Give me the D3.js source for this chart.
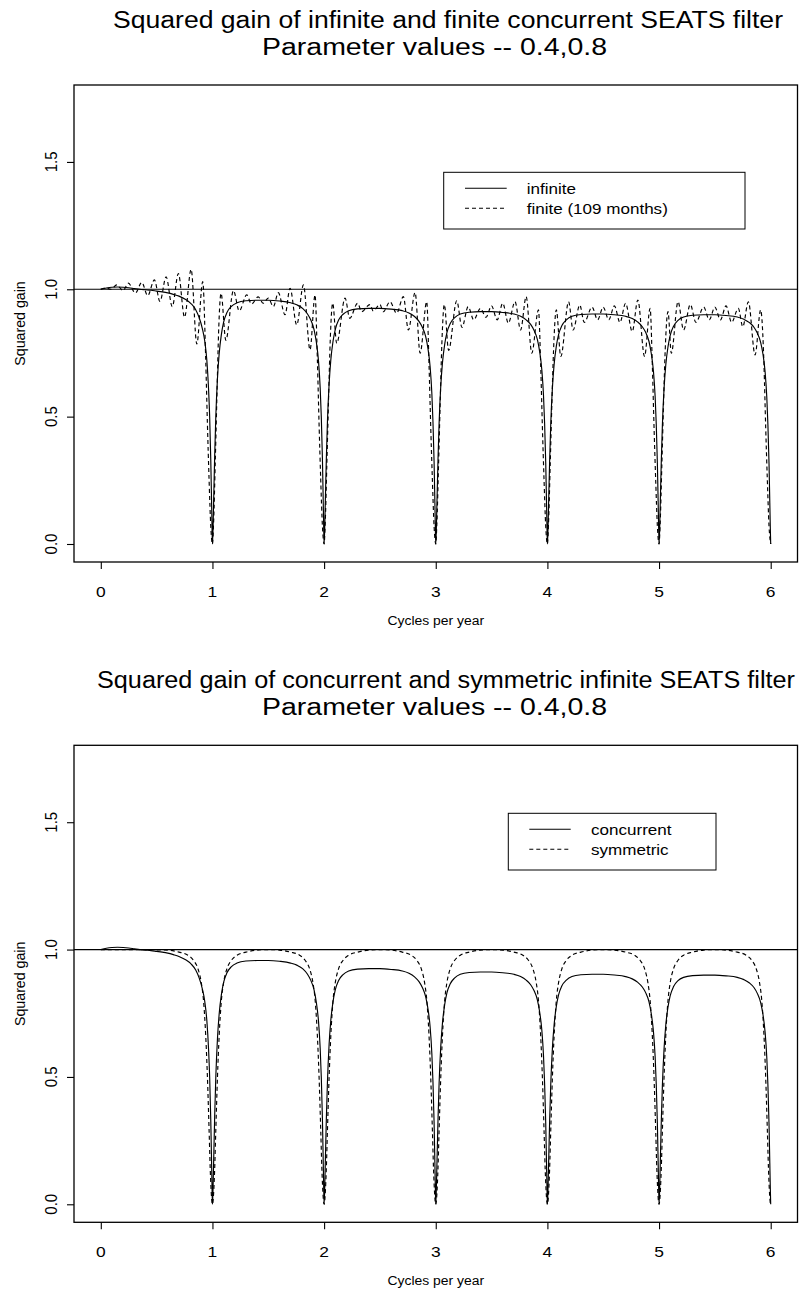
<!DOCTYPE html>
<html><head><meta charset="utf-8">
<script src="https://cdn.jsdelivr.net/npm/d3@7"></script>
<style>
body{margin:0;background:#fff;}
svg text{font-family:"Liberation Sans",Arial,Helvetica,sans-serif;fill:#000;}
</style></head>
<body><svg id="c" width="801" height="1304"></svg>
<script>
// ---------------- data ----------------
const xTicks = [0,1,2,3,4,5,6];
const yTicks = [0,0.5,1,1.5];
const yTickLabels = ["0.0","0.5","1.0","1.5"];
const titleTop = ["Squared gain of infinite and finite concurrent SEATS filter","Parameter values -- 0.4,0.8"];
const titleBottom = ["Squared gain of concurrent and symmetric infinite SEATS filter","Parameter values -- 0.4,0.8"];
const xLabel = "Cycles per year";
const yLabel = "Squared gain";
const legendTop = ["infinite","finite (109 months)"];
const legendBottom = ["concurrent","symmetric"];

// infinite concurrent filter (same curve in both panels)
const infinite = [
[0,1.0],[0.05,1.005],[0.1,1.008],[0.15,1.009],[0.2,1.008],[0.25,1.006],[0.3,1.003],[0.35,1.0],[0.4,0.998],[0.45,0.996],[0.5,0.993],[0.55,0.99],[0.6,0.986],[0.65,0.98],[0.7,0.973],[0.76,0.96],[0.81,0.943],[0.85,0.92],[0.88,0.89],[0.91,0.845],[0.93,0.8],[0.95,0.72],[0.965,0.61],[0.975,0.5],[0.985,0.33],[0.992,0.17],[0.996,0.075],[1,0],
[1.005,0.057],[1.01,0.153],[1.02,0.345],[1.03,0.498],[1.045,0.651],[1.06,0.746],[1.08,0.823],[1.1,0.871],[1.13,0.909],[1.17,0.933],[1.22,0.947],[1.3,0.955],[1.4,0.957],[1.5,0.957],[1.6,0.954],[1.7,0.947],[1.76,0.938],[1.81,0.924],[1.85,0.904],[1.88,0.88],[1.91,0.842],[1.93,0.794],[1.95,0.718],[1.965,0.612],[1.975,0.498],[1.985,0.335],[1.992,0.172],[1.996,0.077],[2,0],
[2.005,0.056],[2.01,0.148],[2.02,0.333],[2.03,0.481],[2.045,0.629],[2.06,0.722],[2.08,0.796],[2.1,0.842],[2.13,0.879],[2.17,0.902],[2.22,0.916],[2.3,0.923],[2.4,0.925],[2.5,0.925],[2.6,0.922],[2.7,0.916],[2.76,0.907],[2.81,0.893],[2.85,0.874],[2.88,0.851],[2.91,0.814],[2.93,0.768],[2.95,0.694],[2.965,0.592],[2.975,0.481],[2.985,0.324],[2.992,0.167],[2.996,0.074],[3,0],
[3.005,0.055],[3.01,0.146],[3.02,0.328],[3.03,0.474],[3.045,0.62],[3.06,0.711],[3.08,0.784],[3.1,0.83],[3.13,0.866],[3.17,0.889],[3.22,0.903],[3.3,0.91],[3.4,0.912],[3.5,0.912],[3.6,0.909],[3.7,0.903],[3.76,0.894],[3.81,0.88],[3.85,0.862],[3.88,0.839],[3.91,0.803],[3.93,0.757],[3.95,0.684],[3.965,0.584],[3.975,0.474],[3.985,0.319],[3.992,0.164],[3.996,0.073],[4,0],
[4.005,0.054],[4.01,0.144],[4.02,0.325],[4.03,0.47],[4.045,0.614],[4.06,0.704],[4.08,0.777],[4.1,0.822],[4.13,0.858],[4.17,0.88],[4.22,0.894],[4.3,0.901],[4.4,0.903],[4.5,0.903],[4.6,0.9],[4.7,0.894],[4.76,0.885],[4.81,0.871],[4.85,0.853],[4.88,0.831],[4.91,0.795],[4.93,0.749],[4.95,0.677],[4.965,0.578],[4.975,0.47],[4.985,0.316],[4.992,0.163],[4.996,0.072],[5,0],
[5.005,0.054],[5.01,0.144],[5.02,0.324],[5.03,0.468],[5.045,0.612],[5.06,0.702],[5.08,0.774],[5.1,0.819],[5.13,0.855],[5.17,0.878],[5.22,0.891],[5.3,0.898],[5.4,0.9],[5.5,0.9],[5.6,0.897],[5.7,0.891],[5.76,0.882],[5.81,0.869],[5.85,0.851],[5.88,0.828],[5.91,0.792],[5.93,0.747],[5.95,0.675],[5.965,0.576],[5.975,0.468],[5.985,0.315],[5.992,0.162],[5.996,0.072],[6,0]
];

// finite (109 months) concurrent filter
const finite = [
[0,1.0],[0.04,1.005],[0.09,1.0],[0.143,1.017],[0.2,0.995],[0.247,1.024],[0.31,0.985],[0.367,1.027],[0.42,0.975],[0.48,1.037],[0.53,0.952],[0.585,1.049],[0.64,0.932],[0.695,1.062],[0.75,0.89],[0.809,1.078],[0.86,0.785],[0.913,1.03],[0.94,0.72],[0.955,0.47],[0.97,0.25],[0.985,0.07],[1,0],
[1.01,0.08],[1.025,0.32],[1.04,0.58],[1.055,0.83],[1.077,0.984],[1.12,0.8],[1.188,0.995],[1.24,0.915],[1.307,0.978],[1.35,0.942],[1.41,0.97],[1.455,0.945],[1.5,0.965],[1.546,0.932],[1.59,0.987],[1.65,0.9],[1.695,1.004],[1.755,0.86],[1.815,1.017],[1.874,0.762],[1.919,0.978],[1.94,0.72],[1.955,0.47],[1.97,0.25],[1.985,0.07],[2,0],
[2.01,0.08],[2.025,0.32],[2.04,0.57],[2.055,0.8],[2.077,0.945],[2.113,0.788],[2.188,0.965],[2.23,0.886],[2.3,0.945],[2.337,0.912],[2.41,0.94],[2.44,0.915],[2.5,0.94],[2.53,0.912],[2.59,0.951],[2.65,0.906],[2.71,0.971],[2.755,0.84],[2.815,0.987],[2.86,0.749],[2.919,0.951],[2.94,0.7],[2.955,0.46],[2.97,0.25],[2.985,0.07],[3,0],
[3.01,0.08],[3.025,0.31],[3.04,0.56],[3.055,0.79],[3.077,0.94],[3.115,0.76],[3.188,0.955],[3.235,0.85],[3.29,0.932],[3.34,0.88],[3.4,0.925],[3.45,0.89],[3.5,0.935],[3.55,0.88],[3.6,0.945],[3.65,0.867],[3.71,0.951],[3.76,0.84],[3.81,0.971],[3.86,0.749],[3.92,0.919],[3.94,0.7],[3.955,0.46],[3.97,0.25],[3.985,0.07],[4,0],
[4.01,0.08],[4.025,0.31],[4.04,0.55],[4.055,0.76],[4.08,0.919],[4.12,0.736],[4.19,0.951],[4.23,0.84],[4.29,0.938],[4.33,0.87],[4.4,0.93],[4.45,0.88],[4.5,0.93],[4.55,0.88],[4.6,0.935],[4.65,0.87],[4.7,0.945],[4.76,0.834],[4.81,0.958],[4.87,0.736],[4.92,0.925],[4.94,0.7],[4.955,0.46],[4.97,0.25],[4.985,0.07],[5,0],
[5.01,0.08],[5.025,0.31],[5.04,0.55],[5.055,0.76],[5.08,0.912],[5.11,0.749],[5.17,0.951],[5.22,0.84],[5.28,0.94],[5.33,0.87],[5.4,0.93],[5.45,0.88],[5.5,0.93],[5.55,0.88],[5.6,0.935],[5.65,0.87],[5.71,0.925],[5.75,0.853],[5.8,0.951],[5.86,0.742],[5.91,0.919],[5.94,0.7],[5.955,0.46],[5.97,0.25],[5.985,0.07],[6,0]
];

// symmetric infinite filter
const symmetric = [
[0,1.0],[0.1,1.0],[0.2,1.0],[0.3,1.0],[0.4,1.0],[0.5,0.999],[0.6,0.998],[0.7,0.99],[0.78,0.978],[0.83,0.958],[0.87,0.925],[0.9,0.87],[0.92,0.8],[0.94,0.66],[0.955,0.5],[0.97,0.29],[0.98,0.14],[0.99,0.04],[0.995,0.01],[1,0],
[1.005,0.01],[1.01,0.04],[1.02,0.14],[1.03,0.29],[1.045,0.5],[1.06,0.66],[1.08,0.8],[1.1,0.87],[1.13,0.925],[1.17,0.958],[1.22,0.978],[1.3,0.99],[1.4,0.998],[1.5,1.0],[1.6,0.998],[1.7,0.99],[1.78,0.978],[1.83,0.958],[1.87,0.925],[1.9,0.87],[1.92,0.8],[1.94,0.66],[1.955,0.5],[1.97,0.29],[1.98,0.14],[1.99,0.04],[1.995,0.01],[2,0],
[2.005,0.01],[2.01,0.04],[2.02,0.14],[2.03,0.29],[2.045,0.5],[2.06,0.66],[2.08,0.8],[2.1,0.87],[2.13,0.925],[2.17,0.958],[2.22,0.978],[2.3,0.99],[2.4,0.998],[2.5,1.0],[2.6,0.998],[2.7,0.99],[2.78,0.978],[2.83,0.958],[2.87,0.925],[2.9,0.87],[2.92,0.8],[2.94,0.66],[2.955,0.5],[2.97,0.29],[2.98,0.14],[2.99,0.04],[2.995,0.01],[3,0],
[3.005,0.01],[3.01,0.04],[3.02,0.14],[3.03,0.29],[3.045,0.5],[3.06,0.66],[3.08,0.8],[3.1,0.87],[3.13,0.925],[3.17,0.958],[3.22,0.978],[3.3,0.99],[3.4,0.998],[3.5,1.0],[3.6,0.998],[3.7,0.99],[3.78,0.978],[3.83,0.958],[3.87,0.925],[3.9,0.87],[3.92,0.8],[3.94,0.66],[3.955,0.5],[3.97,0.29],[3.98,0.14],[3.99,0.04],[3.995,0.01],[4,0],
[4.005,0.01],[4.01,0.04],[4.02,0.14],[4.03,0.29],[4.045,0.5],[4.06,0.66],[4.08,0.8],[4.1,0.87],[4.13,0.925],[4.17,0.958],[4.22,0.978],[4.3,0.99],[4.4,0.998],[4.5,1.0],[4.6,0.998],[4.7,0.99],[4.78,0.978],[4.83,0.958],[4.87,0.925],[4.9,0.87],[4.92,0.8],[4.94,0.66],[4.955,0.5],[4.97,0.29],[4.98,0.14],[4.99,0.04],[4.995,0.01],[5,0],
[5.005,0.01],[5.01,0.04],[5.02,0.14],[5.03,0.29],[5.045,0.5],[5.06,0.66],[5.08,0.8],[5.1,0.87],[5.13,0.925],[5.17,0.958],[5.22,0.978],[5.3,0.99],[5.4,0.998],[5.5,1.0],[5.6,0.998],[5.7,0.99],[5.78,0.978],[5.83,0.958],[5.87,0.925],[5.9,0.87],[5.92,0.8],[5.94,0.66],[5.955,0.5],[5.97,0.29],[5.98,0.14],[5.99,0.04],[5.995,0.01],[6,0]
];

// ---------------- drawing ----------------
const SX = 1.16;
const svg = d3.select("#c");
const X0 = 74, X1 = 797.5;
const xDomain = [-0.24, 6.24];
const yDomain = [-0.0707, 1.802];

function txt(g, x, y, s, size, anchor, rot, sx){
  const k = sx === undefined ? SX : sx;
  return g.append("text")
    .attr("transform", `translate(${x},${y}) scale(${k},1)` + (rot ? " rotate(-90)" : ""))
    .attr("text-anchor", anchor)
    .style("font-size", size + "px")
    .text(s);
}
function fitted(g, x0, x1, y, s, size){
  return g.append("text")
    .attr("x", x0).attr("y", y)
    .attr("textLength", x1 - x0).attr("lengthAdjust", "spacingAndGlyphs")
    .style("font-size", size + "px")
    .text(s);
}

function panel(offset, titles, titleSpan, series, legendLabels, legendBox){
  const g = svg.append("g");
  const top = 85 + offset, bottom = 562 + offset;
  const x = d3.scaleLinear().domain(xDomain).range([X0, X1]);
  const y = d3.scaleLinear().domain(yDomain).range([bottom, top]);

  // titles
  fitted(g, titleSpan[0], titleSpan[1], 28 + offset, titles[0], 23);
  fitted(g, titleSpan[2], titleSpan[3], 55 + offset, titles[1], 23);

  // reference line at 1
  g.append("line").attr("x1", X0).attr("x2", X1).attr("y1", y(1)).attr("y2", y(1))
    .attr("stroke", "#000").attr("stroke-width", 1.1);

  // curves
  const line = d3.line().x(d => x(d[0])).y(d => y(d[1])).curve(d3.curveMonotoneX);
  series.forEach(s => {
    g.append("path").datum(s.data).attr("d", line)
      .attr("fill", "none").attr("stroke", "#000").attr("stroke-width", 1.15)
      .attr("stroke-dasharray", s.dash ? "4,3" : null);
  });

  // axes
  const ax = g.append("g").attr("transform", `translate(0,${bottom})`)
    .call(d3.axisBottom(x).tickValues(xTicks).tickSize(7).tickSizeOuter(0).tickFormat(""));
  ax.select(".domain").remove();
  const ay = g.append("g").attr("transform", `translate(${X0},0)`)
    .call(d3.axisLeft(y).tickValues(yTicks).tickSize(7).tickSizeOuter(0).tickFormat(""));
  ay.select(".domain").remove();
  g.selectAll(".tick line").attr("stroke", "#000").attr("stroke-width", 1.1);

  xTicks.forEach(v => txt(g, x(v), 597 + offset, String(v), 15, "middle"));
  yTicks.forEach((v, i) => txt(g, 57, y(v), yTickLabels[i], 15, "middle", true));

  // box
  g.append("rect").attr("x", X0).attr("y", top).attr("width", X1 - X0).attr("height", bottom - top)
    .attr("fill", "none").attr("stroke", "#000").attr("stroke-width", 1.3);

  // axis titles
  txt(g, (X0 + X1) / 2, 625 + offset, xLabel, 12, "middle");
  txt(g, 25, (top + bottom) / 2, yLabel, 14.2, "middle", true, 1.0);

  // legend
  const [bx0, by0, bx1, by1, lx0, lx1, tx, r0] = legendBox;
  g.append("rect").attr("x", bx0).attr("y", by0 + offset).attr("width", bx1 - bx0).attr("height", by1 - by0)
    .attr("fill", "#fff").attr("stroke", "#000").attr("stroke-width", 1);
  legendLabels.forEach((lab, i) => {
    const yy = r0 + i * 20 + offset;
    g.append("line").attr("x1", lx0).attr("x2", lx1).attr("y1", yy).attr("y2", yy)
      .attr("stroke", "#000").attr("stroke-width", 1.1)
      .attr("stroke-dasharray", i === 1 ? "4,3" : null);
    txt(g, tx, yy + 5.3, lab, 14.7, "start");
  });
}

panel(0, titleTop, [113, 783, 262, 607],
  [{data: finite, dash: true}, {data: infinite, dash: false}],
  legendTop, [443.7, 172.3, 745, 229, 465, 506.7, 526.7, 188.3]);

panel(660.3, titleBottom, [97, 795, 262, 607],
  [{data: symmetric, dash: true}, {data: infinite, dash: false}],
  legendBottom, [508.3, 153, 716, 209.7, 529.3, 570.7, 591, 169]);
</script>
</body></html>
